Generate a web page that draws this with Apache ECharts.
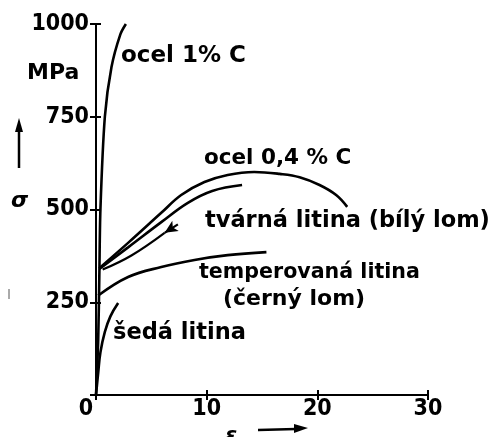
<!DOCTYPE html>
<html>
<head>
<meta charset="utf-8">
<script src="https://cdn.jsdelivr.net/npm/echarts@6/dist/echarts.min.js"></script>
<style>
  html, body { margin: 0; padding: 0; background: #fff; }
  #chart { width: 494px; height: 437px; }
</style>
</head>
<body>
<div id="chart"></div>
<script>
// Tahové diagramy: poměrné prodloužení ε [%] proti napětí σ [MPa]
const xTicks = [0, 10, 20, 30];
const yTicks = [0, 250, 500, 750, 1000];

// [ε, σ] body jednotlivých křivek
const ocel1C = [[0, 0], [0.2, 150], [0.3, 320], [0.4, 500], [0.8, 750], [1.4, 884], [2.2, 972], [2.7, 1000]];
const ocel04C = [[0.3, 342], [2.9, 410], [5.9, 491], [7.7, 539], [9.8, 574], [11.9, 593], [14.3, 601],
                 [16.6, 596], [18.4, 587], [20.2, 566], [21.7, 539], [22.7, 507]];
const tvarnaLitina = [[0.3, 340], [2.9, 398], [5.9, 466], [8.3, 518], [10.5, 550], [13.2, 566]];
const odlehceni = [[0.6, 338], [3.2, 376], [6.2, 437]];
const odlehceniSipka = [[7.4, 460], [6.2, 437]];
const temperovanaLitina = [[0.2, 268], [2.9, 318], [5.9, 345], [8.9, 364], [11.9, 377], [15.4, 385]];
const sedaLitina = [[0, 0], [0.2, 60], [0.4, 115], [0.8, 170], [1.3, 212], [2.0, 248]];

const TICK_FONT = '"DejaVu Sans Condensed", "DejaVu Sans", sans-serif';
const TEXT_FONT = '"DejaVu Sans", sans-serif';
const INK = '#000';

const chart = echarts.init(document.getElementById('chart'), null, { renderer: 'canvas' });

function curve(name, data, extra) {
  return Object.assign({
    name: name,
    type: 'line',
    data: data,
    symbol: 'none',
    smooth: 0.4,
    xAxisIndex: 0,
    yAxisIndex: 0,
    lineStyle: { color: INK, width: 2.6 },
    silent: true,
    animation: false
  }, extra || {});
}

function label(text, x, y, size, style) {
  return {
    type: 'text', x: x, y: y, silent: true,
    style: {
      text: text, fill: INK, verticalAlign: 'middle',
      font: (style || 'bold') + ' ' + size + 'px ' + TEXT_FONT
    }
  };
}

const option = {
  animation: false,
  backgroundColor: '#fff',
  textStyle: { fontFamily: TICK_FONT },
  grid: { left: 96, top: 24, width: 332, height: 371, containLabel: false },
  xAxis: [
    {
      type: 'value', min: 0, max: 30, interval: 10,
      axisLine: { show: true, onZero: false, lineStyle: { color: INK, width: 2 } },
      axisTick: { show: true, length: 5, lineStyle: { color: INK, width: 2 } },
      splitLine: { show: false },
      axisLabel: {
        color: INK, fontSize: 23, fontWeight: 'bold', margin: 3,
        formatter: v => xTicks.includes(v) ? (v === 0 ? '{z|0}' : String(v)) : '',
        rich: { z: { fontSize: 23, fontWeight: 'bold', color: INK, padding: [0, 20, 0, 0] } }
      }
    },
    {
      type: 'value', min: 0, max: 30, interval: 10, position: 'bottom',
      axisLine: { show: false },
      axisTick: { show: true, inside: true, length: 5, lineStyle: { color: INK, width: 2 } },
      axisLabel: { show: false }, splitLine: { show: false }
    }
  ],
  yAxis: [
    {
      type: 'value', min: 0, max: 1000, interval: 250,
      axisLine: { show: true, onZero: false, lineStyle: { color: INK, width: 2 } },
      axisTick: { show: true, length: 6, lineStyle: { color: INK, width: 2 } },
      splitLine: { show: false },
      axisLabel: {
        color: INK, fontSize: 23, fontWeight: 'bold', margin: 7,
        formatter: v => (v === 0 || !yTicks.includes(v)) ? '' : String(v)
      }
    },
    {
      type: 'value', min: 0, max: 1000, interval: 250, position: 'left',
      axisLine: { show: false },
      axisTick: { show: true, inside: true, length: 5, lineStyle: { color: INK, width: 2 } },
      axisLabel: { show: false }, splitLine: { show: false }
    }
  ],
  series: [
    curve('ocel 1% C', ocel1C, { smooth: 0.3 }),
    curve('ocel 0,4 % C', ocel04C),
    curve('tvárná litina (bílý lom)', tvarnaLitina),
    curve('odlehčení', odlehceni, {
      lineStyle: { color: INK, width: 2.2 },
      markLine: {
        silent: true, animation: false,
        symbol: ['none', 'arrow'], symbolSize: [9, 13],
        label: { show: false },
        lineStyle: { color: INK, width: 2.2, type: 'solid' },
        data: [[{ coord: odlehceniSipka[0] }, { coord: odlehceniSipka[1] }]]
      }
    }),
    curve('temperovaná litina (černý lom)', temperovanaLitina),
    curve('šedá litina', sedaLitina)
  ],
  graphic: [
    label('ocel 1% C', 121, 56, 23),
    label('MPa', 27, 73, 22),
    label('σ', 11, 201, 22, 'italic bold'),
    { type: 'line', silent: true, shape: { x1: 19, y1: 168, x2: 19, y2: 128 }, style: { stroke: INK, lineWidth: 2.5 } },
    { type: 'polygon', silent: true, shape: { points: [[19, 118], [15, 132], [23, 132]] }, style: { fill: INK } },
    { type: 'line', silent: true, shape: { x1: 9, y1: 289, x2: 9, y2: 299 }, style: { stroke: '#555', lineWidth: 1 } },
    label('ocel 0,4 % C', 204, 158, 21.5),
    label('tvárná litina (bílý lom)', 205, 221, 22.5),
    label('temperovaná litina', 199, 273, 20.6),
    label('(černý lom)', 223, 299, 22),
    label('šedá litina', 113, 333, 22.5),
    label('ε', 225, 436, 22, 'italic bold'),
    { type: 'line', silent: true, shape: { x1: 258, y1: 430, x2: 296, y2: 429 }, style: { stroke: INK, lineWidth: 2.5 } },
    { type: 'polygon', silent: true, shape: { points: [[308, 428], [294, 424], [294, 433]] }, style: { fill: INK } }
  ]
};

chart.setOption(option);
</script>
</body>
</html>
